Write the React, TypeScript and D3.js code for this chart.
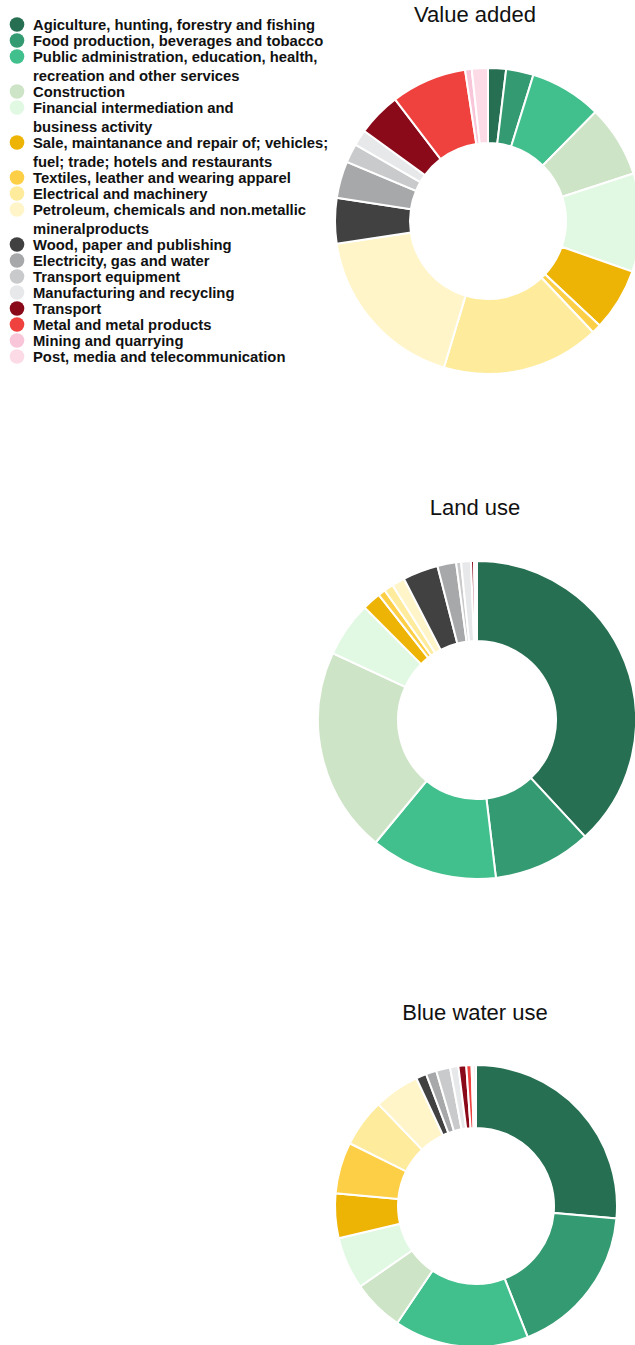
import * as d3 from "d3";
import { useEffect, useRef } from "react";

const sectors = [
  "Agiculture, hunting, forestry and fishing",
  "Food production, beverages and tobacco",
  "Public administration, education, health,|recreation and other services",
  "Construction",
  "Financial intermediation and|business activity",
  "Sale, maintanance and repair of; vehicles;|fuel; trade; hotels and restaurants",
  "Textiles, leather and wearing apparel",
  "Electrical and machinery",
  "Petroleum, chemicals and non.metallic|mineralproducts",
  "Wood, paper and publishing",
  "Electricity, gas and water",
  "Transport equipment",
  "Manufacturing and recycling",
  "Transport",
  "Metal and metal products",
  "Mining and quarrying",
  "Post, media and telecommunication",
];

const colors = [
  "#276f52", "#349a71", "#41bf8c", "#cee4c7", "#e1f9e3", "#edb405",
  "#fdcf46", "#feeb9b", "#fff5c8", "#414141", "#a7a8aa", "#c9cacc",
  "#e7e8ea", "#8a0a1a", "#ef423f", "#f8c6d8", "#fcdbe6",
];

const valueAdded = [1.9, 2.9, 7.6, 7.6, 10.4, 6.6, 1.0, 16.7, 18.0, 4.8, 3.9, 2.0, 1.7, 4.6, 8.0, 0.7, 1.7];
const landUse = [38.1, 10.0, 12.9, 20.9, 5.6, 1.9, 0.75, 0.95, 1.3, 3.6, 1.9, 0.5, 1.0, 0.3, 0.1, 0.1, 0.1];
const blueWater = [26.4, 17.6, 15.4, 5.9, 6.0, 5.1, 5.9, 5.5, 5.2, 1.2, 1.2, 1.6, 0.95, 0.9, 0.6, 0.2, 0.3];

const titles = ["Value added", "Land use", "Blue water use"];

export default function App() {
  const ref = useRef<SVGSVGElement>(null);

  useEffect(() => {
    if (!ref.current) return;
    const svg = d3.select(ref.current);
    svg.selectAll("*").remove();

    // Legend
    const legend = svg.append("g").attr("font-family", "Arial, 'Liberation Sans', sans-serif");
    let y = 24.5;
    sectors.forEach((s, i) => {
      const lines = s.split("|");
      legend
        .append("circle")
        .attr("cx", 17)
        .attr("cy", y)
        .attr("r", 7.3)
        .attr("fill", colors[i]);
      lines.forEach((ln, j) => {
        legend
          .append("text")
          .attr("x", 33)
          .attr("y", y + j * 19)
          .attr("dy", "0.36em")
          .attr("font-size", 14.8)
          .attr("font-weight", "bold")
          .attr("fill", "#111")
          .text(ln);
      });
      y += 16 + (lines.length - 1) * 19;
    });

    // Donuts
    const charts = [
      { data: valueAdded, cx: 488, cy: 221, r: 153, ir: 78, ty: 22 },
      { data: landUse, cx: 477, cy: 720, r: 159, ir: 79, ty: 515 },
      { data: blueWater, cx: 476, cy: 1206, r: 141, ir: 78, ty: 1020 },
    ];

    const pie = d3.pie<number>().sort(null).value((d) => d);

    charts.forEach((c, k) => {
      svg
        .append("text")
        .attr("x", 475)
        .attr("y", c.ty)
        .attr("text-anchor", "middle")
        .attr("font-family", "Arial, 'Liberation Sans', sans-serif")
        .attr("font-size", 22)
        .attr("fill", "#111")
        .text(titles[k]);

      const arc = d3.arc<d3.PieArcDatum<number>>().innerRadius(c.ir).outerRadius(c.r);
      const g = svg.append("g").attr("transform", `translate(${c.cx},${c.cy})`);
      g.selectAll("path")
        .data(pie(c.data))
        .enter()
        .append("path")
        .attr("d", arc)
        .attr("fill", (d, i) => colors[i])
        .attr("stroke", "#fff")
        .attr("stroke-width", 2);
    });
  }, []);

  return (
    <svg
      ref={ref}
      width={635}
      height={1345}
      style={{ position: "absolute", left: 0, top: 0, background: "#fff" }}
    />
  );
}
